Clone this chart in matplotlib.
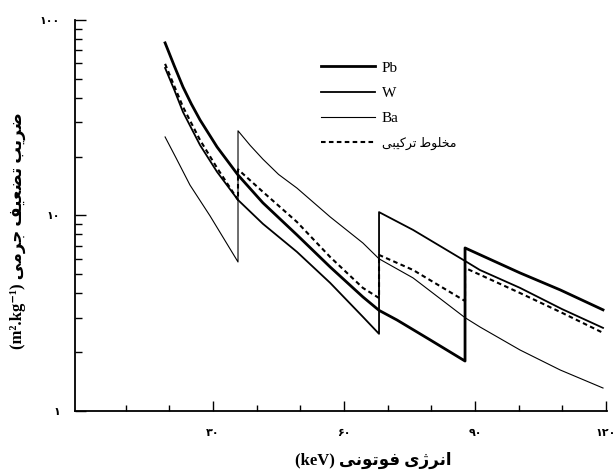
import matplotlib
matplotlib.use('Agg')
import matplotlib.pyplot as plt
from matplotlib.ticker import FixedLocator, NullFormatter

# values (keV, mass attenuation)
pb_x = [19.0, 21.1, 23.1, 25.0, 27.0, 30.9, 35.7, 41.4, 49.2, 56.8, 64.3, 68.0, 72.1, 79.7, 87.7,
        87.7, 100.3, 109.5, 119.3]
pb_y = [76.3, 58.2, 45.4, 37.2, 30.8, 22.4, 16.1, 11.6, 7.95, 5.45, 3.83, 3.27, 2.92, 2.31, 1.80,
        6.82, 5.08, 4.16, 3.29]

w_x = [19.0, 21.1, 23.1, 27.0, 30.9, 35.7, 41.4, 49.2, 56.8, 64.3, 68.0,
       68.0, 75.8, 87.7, 91.1, 100.3, 109.9, 119.3]
w_y = [56.8, 43.9, 33.8, 22.9, 16.7, 12.0, 9.06, 6.51, 4.52, 3.03, 2.48,
       10.4, 8.43, 5.85, 5.26, 4.26, 3.32, 2.66]

ba_x = [19.0, 21.5, 24.7, 29.3, 35.7,
        35.7, 38.5, 41.4, 45.0, 49.2, 56.8, 64.3, 68.0, 75.8, 87.7, 91.1, 100.3, 109.5, 119.3]
ba_y = [25.2, 19.7, 14.3, 9.94, 5.78,
        27.1, 22.8, 19.4, 16.2, 13.8, 9.83, 7.23, 6.0, 4.79, 3.0, 2.69, 2.05, 1.62, 1.31]

mix_x = [19.0, 21.1, 23.1, 27.0, 30.9, 35.7,
         35.7, 41.4, 49.2, 56.8, 64.3, 68.0,
         68.0, 75.8, 87.7,
         87.7, 100.3, 110.0, 119.3]
mix_y = [59.6, 45.9, 35.9, 24.3, 17.5, 12.0,
         17.2, 13.2, 9.26, 6.13, 4.26, 3.78,
         6.28, 5.26, 3.65,
         5.39, 4.01, 3.17, 2.51]

x_ticks = [30, 60, 90, 120]
x_labels = ['۳۰', '۶۰', '۹۰', '۱۲۰']
y_ticks = [1, 10, 100]
y_labels = ['۱', '۱۰', '۱۰۰']

# matplotlib has no arabic shaping, so pick presentation forms by hand
DUAL = {
    'ب': '\uFE8F\uFE90\uFE91\uFE92', 'ت': '\uFE95\uFE96\uFE97\uFE98',
    'ج': '\uFE9D\uFE9E\uFE9F\uFEA0', 'خ': '\uFEA5\uFEA6\uFEA7\uFEA8',
    'ض': '\uFEBD\uFEBE\uFEBF\uFEC0', 'ط': '\uFEC1\uFEC2\uFEC3\uFEC4',
    'ع': '\uFEC9\uFECA\uFECB\uFECC', 'ف': '\uFED1\uFED2\uFED3\uFED4',
    'ل': '\uFEDD\uFEDE\uFEDF\uFEE0', 'م': '\uFEE1\uFEE2\uFEE3\uFEE4',
    'ن': '\uFEE5\uFEE6\uFEE7\uFEE8', 'ی': '\uFBFC\uFBFD\uFBFE\uFBFF',
    'ک': '\uFB8E\uFB8F\uFB90\uFB91',
}
RIGHT = {'ا': '\uFE8D\uFE8E', 'ر': '\uFEAD\uFEAE', 'ژ': '\uFB8A\uFB8B', 'و': '\uFEED\uFEEE'}


def fa(s):
    out = []
    for i, ch in enumerate(s):
        prev = s[i - 1] if i > 0 else ''
        nxt = s[i + 1] if i + 1 < len(s) else ''
        jp = prev in DUAL
        if ch in DUAL:
            jn = nxt in DUAL or nxt in RIGHT
            f = DUAL[ch]
            out.append(f[3] if jp and jn else f[1] if jp else f[2] if jn else f[0])
        elif ch in RIGHT:
            out.append(RIGHT[ch][1] if jp else RIGHT[ch][0])
        else:
            out.append(ch)
    return ''.join(reversed(out))


plt.rcParams['font.family'] = ['Liberation Serif', 'DejaVu Sans']

fig = plt.figure(figsize=(6.16, 4.74), dpi=100)
ax = fig.add_axes([0.122, 0.133, 0.864, 0.825])

ax.plot(pb_x, pb_y, color='black', lw=2.0, label='Pb')
ax.plot(w_x, w_y, color='black', lw=1.3, label='W')
ax.plot(ba_x, ba_y, color='black', lw=0.8, label='Ba')
ax.plot(mix_x, mix_y, color='black', lw=1.5, ls=(0, (2.2, 1.6)), label=fa('مخلوط ترکیبی'))

ax.set_yscale('log')
ax.set_xlim(-1.6, 120.3)
ax.set_ylim(1, 100)

for s in ['top', 'right']:
    ax.spines[s].set_visible(False)
ax.spines['left'].set_linewidth(1.3)
ax.spines['bottom'].set_linewidth(1.3)

ax.xaxis.set_major_locator(FixedLocator(x_ticks))
ax.set_xticklabels(x_labels, family='DejaVu Sans', fontsize=8, fontweight='bold')
ax.xaxis.set_minor_locator(FixedLocator([10, 20, 40, 50, 70, 80, 100, 110]))
ax.yaxis.set_major_locator(FixedLocator(y_ticks))
ax.set_yticklabels(y_labels, family='DejaVu Sans', fontsize=8, fontweight='bold')
ax.yaxis.set_minor_locator(FixedLocator([m * d for d in (1, 10) for m in range(2, 10)]))
ax.yaxis.set_minor_formatter(NullFormatter())

ax.tick_params(which='both', direction='in', width=1.0, color='black')
ax.tick_params(axis='x', which='major', length=7, pad=12)
ax.tick_params(axis='x', which='minor', length=4)
ax.tick_params(axis='y', which='major', length=8, pad=11)
ax.tick_params(axis='y', which='minor', length=5)

ax.set_xlabel('(keV) ' + fa('انرژی فوتونی'), fontsize=12, fontweight='bold')
ax.xaxis.set_label_coords(0.56, -0.105)
ax.set_ylabel('(m².kg⁻¹) ' + fa('ضریب تضعیف جرمی'), fontsize=12, fontweight='bold')
ax.yaxis.set_label_coords(-0.092, 0.46)

leg = ax.legend(loc='upper left', bbox_to_anchor=(0.437, 0.93), frameon=False,
                fontsize=11, handlelength=3.5, handletextpad=0.45, labelspacing=0.75)
leg.get_texts()[3].set_fontsize(9)

fig.savefig('out.png', dpi=100)
